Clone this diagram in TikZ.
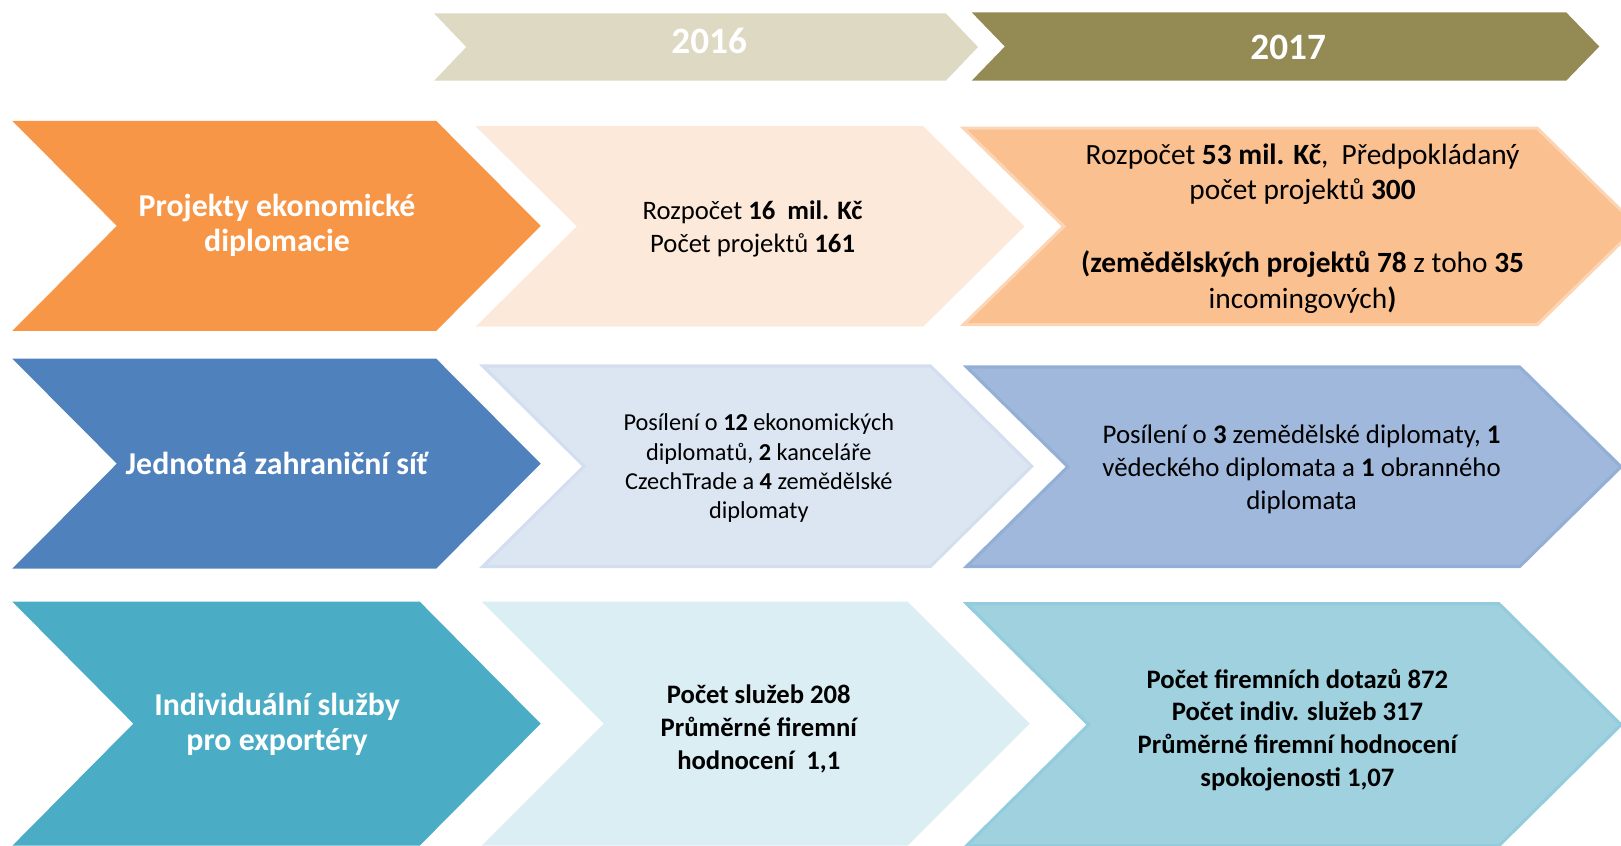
\documentclass[tikz,border=0pt]{standalone}
\usepackage{fontspec}
\setmainfont{Carlito}
\usepackage{xcolor}
\usepackage{tikz}
\usetikzlibrary{positioning}

\definecolor{tanlight}{HTML}{DDD9C3}
\definecolor{tandark}{HTML}{948A54}
\definecolor{orangemain}{HTML}{F79646}
\definecolor{orangepale}{HTML}{FDE9D9}
\definecolor{orangemid}{HTML}{FAC090}
\definecolor{orangeedge}{HTML}{FCD5B4}
\definecolor{bluemain}{HTML}{4F81BD}
\definecolor{bluepale}{HTML}{DCE6F2}
\definecolor{bluepaleedge}{HTML}{D3DFEE}
\definecolor{bluemid}{HTML}{9FB8DB}
\definecolor{bluemidedge}{HTML}{94AFD6}
\definecolor{tealmain}{HTML}{4BACC6}
\definecolor{tealpale}{HTML}{DBEEF4}
\definecolor{tealmid}{HTML}{9FD1DF}
\definecolor{tealmidedge}{HTML}{93CCDC}

\begin{document}
\begin{tikzpicture}[x=1pt, y=-1pt,
    year/.style={text=white, font=\fontsize{36}{40}\selectfont\bfseries},
    topic/.style={align=center, text=white, font=\fontsize{30.8}{34}\selectfont\bfseries},
    info/.style={align=center, text=black, font=\fontsize{25.8}{32}\selectfont}
]
\useasboundingbox (0,0) rectangle (1568,818);
\clip (0,0) rectangle (1568,818);

\foreach \lx/\ty/\by/\rx/\dp/\fc/\ec in {
    420/13/78/915/31/tanlight/none,
    940/12/78/1515/32/tandark/none,
    12/117/320/422/101/orangemain/none,
    460/122/316/893/98/orangepale/none,
    932/124/314/1487/97/orangemid/orangeedge,
    12/347/550/422/101/bluemain/none,
    467/354/548/900/98/bluepale/bluepaleedge,
    935/355/548/1470/98/bluemid/bluemidedge,
    12/582/818/406/117/tealmain/none,
    466/582/818/878/118/tealpale/none,
    935/584/818/1450/118/tealmid/tealmidedge}
    \path[fill=\fc, draw=\ec, line width=3pt]
        (\lx,\ty) -- (\rx,\ty) -- ({\rx+\dp},{(\ty+\by)/2}) -- (\rx,\by)
        -- (\lx,\by) -- ({\lx+\dp},{(\ty+\by)/2}) -- cycle;

\node[year] (y16) at (686,40) {2016};
\node[year] (y17) at (1246,46) {2017};

\node[topic] (proj) at (268,218) {Projekty ekonomické\\diplomacie};
\node[topic] (sit) at (268,448) {Jednotná zahraniční síť};
\node[topic] (sluz) at (268,701) {Individuální služby\\pro exportéry};

\node[info] (proj16) at (728,221) {Rozpočet \textbf{16\ \ mil. Kč}\\Počet projektů \textbf{161}};
\node[info, font=\fontsize{28.4}{34}\selectfont] (proj17) at (1260,221)
    {Rozpočet \textbf{53 mil. Kč},\ \ Předpokládaný\\počet projektů \textbf{300}\\[37pt]
     \textbf{(zemědělských projektů 78} z toho \textbf{35}\\incomingových\textbf{)}};

\node[info, font=\fontsize{23.5}{28.5}\selectfont] (sit16) at (734,453)
    {Posílení o \textbf{12} ekonomických\\diplomatů, \textbf{2} kanceláře\\CzechTrade a \textbf{4} zemědělské\\diplomaty};
\node[info, font=\fontsize{26}{32}\selectfont] (sit17) at (1259,454)
    {Posílení o \textbf{3} zemědělské diplomaty, \textbf{1}\\vědeckého diplomata a \textbf{1} obranného\\diplomata};

\node[info, font=\fontsize{25.8}{32}\selectfont\bfseries] (sluz16) at (734,705)
    {Počet služeb 208\\Průměrné firemní\\hodnocení\ \ 1,1};
\node[info, font=\fontsize{25.8}{31.5}\selectfont\bfseries] (sluz17) at (1255,706)
    {Počet firemních dotazů 872\\Počet indiv. služeb 317\\Průměrné firemní hodnocení\\spokojenosti 1,07};

\end{tikzpicture}
\end{document}
